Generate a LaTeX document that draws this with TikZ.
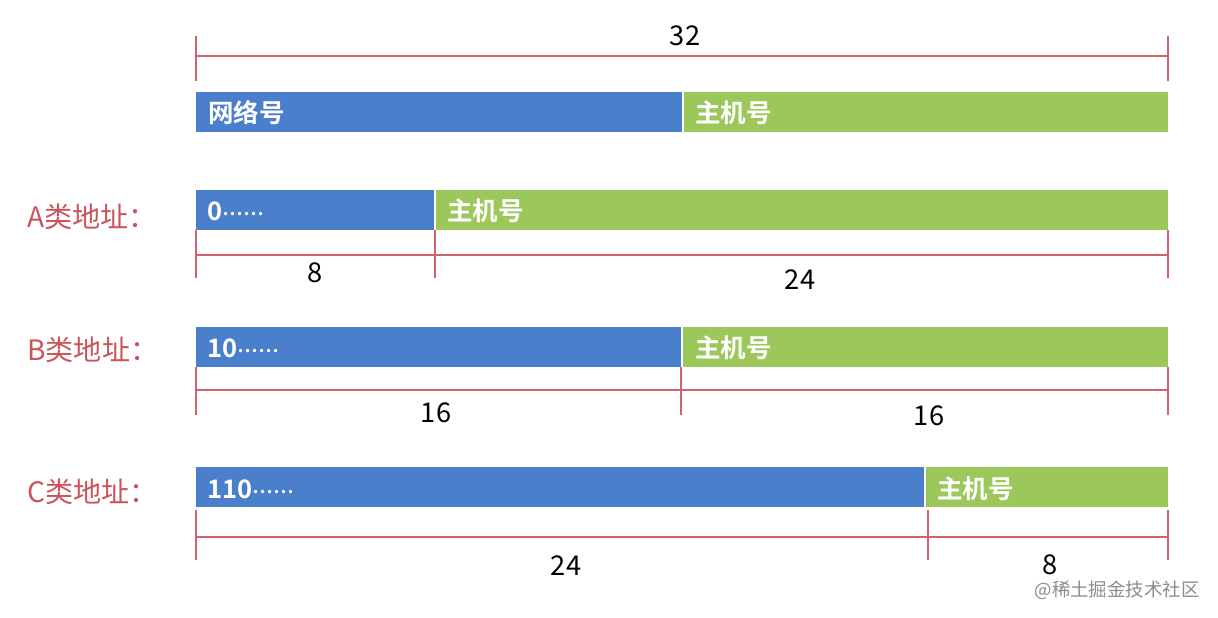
\documentclass[tikz,border=0pt]{standalone}
\usepackage{fontspec}
\setmainfont{Noto Sans CJK SC}[BoldFont={* Bold}]
\usepackage{tikz}
\usetikzlibrary{positioning, calc}

\definecolor{netblue}{HTML}{4A7FCB}
\definecolor{hostgreen}{HTML}{9BC75B}
\definecolor{dimred}{HTML}{D0626A}
\definecolor{classred}{HTML}{C9545A}

\newcommand\fewdots{\raisebox{0.32ex}{\mdseries......}}

\begin{document}
\begin{tikzpicture}[x=0.02cm, y=-0.02cm,
	netpart/.style={fill=netblue},
	hostpart/.style={fill=hostgreen},
	bartext/.style={anchor=west, text=white, font=\bfseries\fontsize{14.5}{16}\selectfont, inner sep=0pt},
	classlabel/.style={anchor=west, text=classred, font=\fontsize{16}{18}\selectfont, inner sep=0pt},
	bits/.style={font=\fontsize{15.5}{17}\selectfont, inner sep=0pt},
	dimline/.style={draw=dimred, line width=0.8pt}]
	\useasboundingbox (0,0) rectangle (1218,618);

	% top: whole address
	\coordinate (t0) at (196,56);
	\coordinate (t1) at (1168,56);
	\draw[dimline] (t0) -- (t1);
	\draw[dimline] ($(t0)+(0,-20)$) -- ($(t0)+(0,25)$);
	\draw[dimline] ($(t1)+(0,-20)$) -- ($(t1)+(0,25)$);
	\node[bits] (n32) at (685,36) {32};
	\fill[netpart] (196,92) rectangle (682,132);
	\fill[hostpart] (684,92) rectangle (1168,132);
	\node[bartext] (net) at (208,113) {网络号};
	\node[bartext] (host) at (695,113) {主机号};

	% class A
	\node[classlabel] (clA) at (27,217) {A类地址：};
	\fill[netpart] (196,190) rectangle (434,230);
	\fill[hostpart] (436,190) rectangle (1168,230);
	\node[bartext] (netA) at (207,211) {0\fewdots};
	\node[bartext] (hostA) at (447,211) {主机号};
	\coordinate (a0) at (196,255);
	\coordinate (a1) at (435,255);
	\coordinate (a2) at (1168,255);
	\draw[dimline] (a0) -- (a2);
	\foreach \p in {a0,a1,a2}
		\draw[dimline] ($(\p)+(0,-25)$) -- ($(\p)+(0,23)$);
	\node[bits] (bA1) at (315,273) {8};
	\node[bits] (bA2) at (800,280) {24};

	% class B
	\node[classlabel] (clB) at (27,350) {B类地址：};
	\fill[netpart] (196,327) rectangle (681,367);
	\fill[hostpart] (683,327) rectangle (1168,367);
	\node[bartext] (netB) at (207,348) {10\fewdots};
	\node[bartext] (hostB) at (695,348) {主机号};
	\coordinate (b0) at (196,390);
	\coordinate (b1) at (681,390);
	\coordinate (b2) at (1168,390);
	\draw[dimline] (b0) -- (b2);
	\foreach \p in {b0,b1,b2}
		\draw[dimline] ($(\p)+(0,-23)$) -- ($(\p)+(0,25)$);
	\node[bits] (bB1) at (436,413) {16};
	\node[bits] (bB2) at (929,416) {16};

	% class C
	\node[classlabel] (clC) at (27,492) {C类地址：};
	\fill[netpart] (196,467) rectangle (924,507);
	\fill[hostpart] (926,467) rectangle (1168,507);
	\node[bartext] (netC) at (207,489) {110\fewdots};
	\node[bartext] (hostC) at (937,489) {主机号};
	\coordinate (c0) at (196,537);
	\coordinate (c1) at (928,537);
	\coordinate (c2) at (1168,537);
	\draw[dimline] (c0) -- (c2);
	\foreach \p in {c0,c1,c2}
		\draw[dimline] ($(\p)+(0,-27)$) -- ($(\p)+(0,23)$);
	\node[bits] (bC1) at (566,566) {24};
	\node[bits] (bC2) at (1050,565) {8};

	\node[anchor=east, text=black!45, font=\fontsize{10.5}{12}\selectfont, inner sep=0pt] (mark) at (1200,590) {@稀土掘金技术社区};
\end{tikzpicture}
\end{document}
